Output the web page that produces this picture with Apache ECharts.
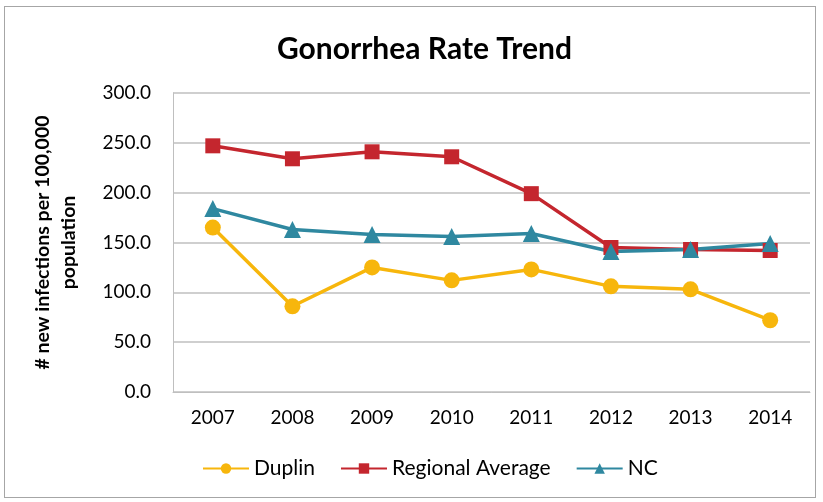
<!DOCTYPE html>
<html>
<head>
<meta charset="utf-8">
<script src="https://cdn.jsdelivr.net/npm/echarts@6/dist/echarts.min.js"></script>
<style>
  html, body { margin: 0; padding: 0; background: #fff; }
  #frame { position: absolute; left: 4px; top: 6px; width: 812px; height: 492px; border: 1px solid #a6a6a6; box-sizing: border-box; }
  #chart { width: 823px; height: 502px; position: absolute; left: 0; top: 0; }
</style>
</head>
<body>
<div id="frame"></div>
<div id="chart"></div>
<script>
// Gonorrhea rates per 100,000 population
const years = ['2007', '2008', '2009', '2010', '2011', '2012', '2013', '2014'];
const duplin = [165, 86, 125, 112, 123, 106, 103, 72];
const regionalAverage = [247, 234, 241, 236, 199, 145, 143, 142];
const nc = [184, 163, 158, 156, 159, 141, 143, 149];
const yTicks = { min: 0, max: 300, interval: 50 };

const font = 'Lato, "Open Sans", sans-serif';
const chart = echarts.init(document.getElementById('chart'));

function lineSeries(name, data, color, symbol, size) {
  return {
    name, type: 'line', data,
    symbol, symbolSize: size,
    lineStyle: { color, width: 3.5 },
    itemStyle: { color },
    emphasis: { disabled: true }
  };
}

chart.setOption({
  animation: false,
  title: {
    text: 'Gonorrhea Rate Trend',
    left: 272, top: 29,
    textStyle: { fontFamily: font, fontSize: 30, fontWeight: 'bold', color: '#000' }
  },
  legend: {
    bottom: 18, left: 197,
    itemWidth: 46, itemHeight: 13, itemGap: 25,
    textStyle: { fontFamily: font, fontSize: 21, color: '#000' },
    data: ['Duplin', 'Regional Average', 'NC']
  },
  grid: { left: 173, right: 13, top: 93, bottom: 110 },
  xAxis: {
    type: 'category', data: years, boundaryGap: true,
    axisLine: { lineStyle: { color: '#bfbfbf' } },
    axisTick: { show: false },
    axisLabel: { fontFamily: font, fontSize: 19, color: '#000', margin: 16 }
  },
  yAxis: {
    type: 'value', min: yTicks.min, max: yTicks.max, interval: yTicks.interval,
    name: '# new infections per 100,000\npopulation',
    nameLocation: 'middle', nameGap: 91, nameRotate: 90,
    nameTextStyle: { fontFamily: font, fontSize: 19.5, fontWeight: 'bold', color: '#000', lineHeight: 26 },
    axisLine: { show: true, lineStyle: { color: '#bfbfbf' } },
    axisTick: { show: false },
    splitLine: { lineStyle: { color: '#bfbfbf', width: 1.5 } },
    axisLabel: { fontFamily: font, fontSize: 19, color: '#000', margin: 22, formatter: v => v.toFixed(1) }
  },
  series: [
    lineSeries('Duplin', duplin, '#f7b60c', 'circle', 16),
    lineSeries('Regional Average', regionalAverage, '#c4262e', 'rect', 15),
    lineSeries('NC', nc, '#2f88a0', 'triangle', 17)
  ]
});
</script>
</body>
</html>
